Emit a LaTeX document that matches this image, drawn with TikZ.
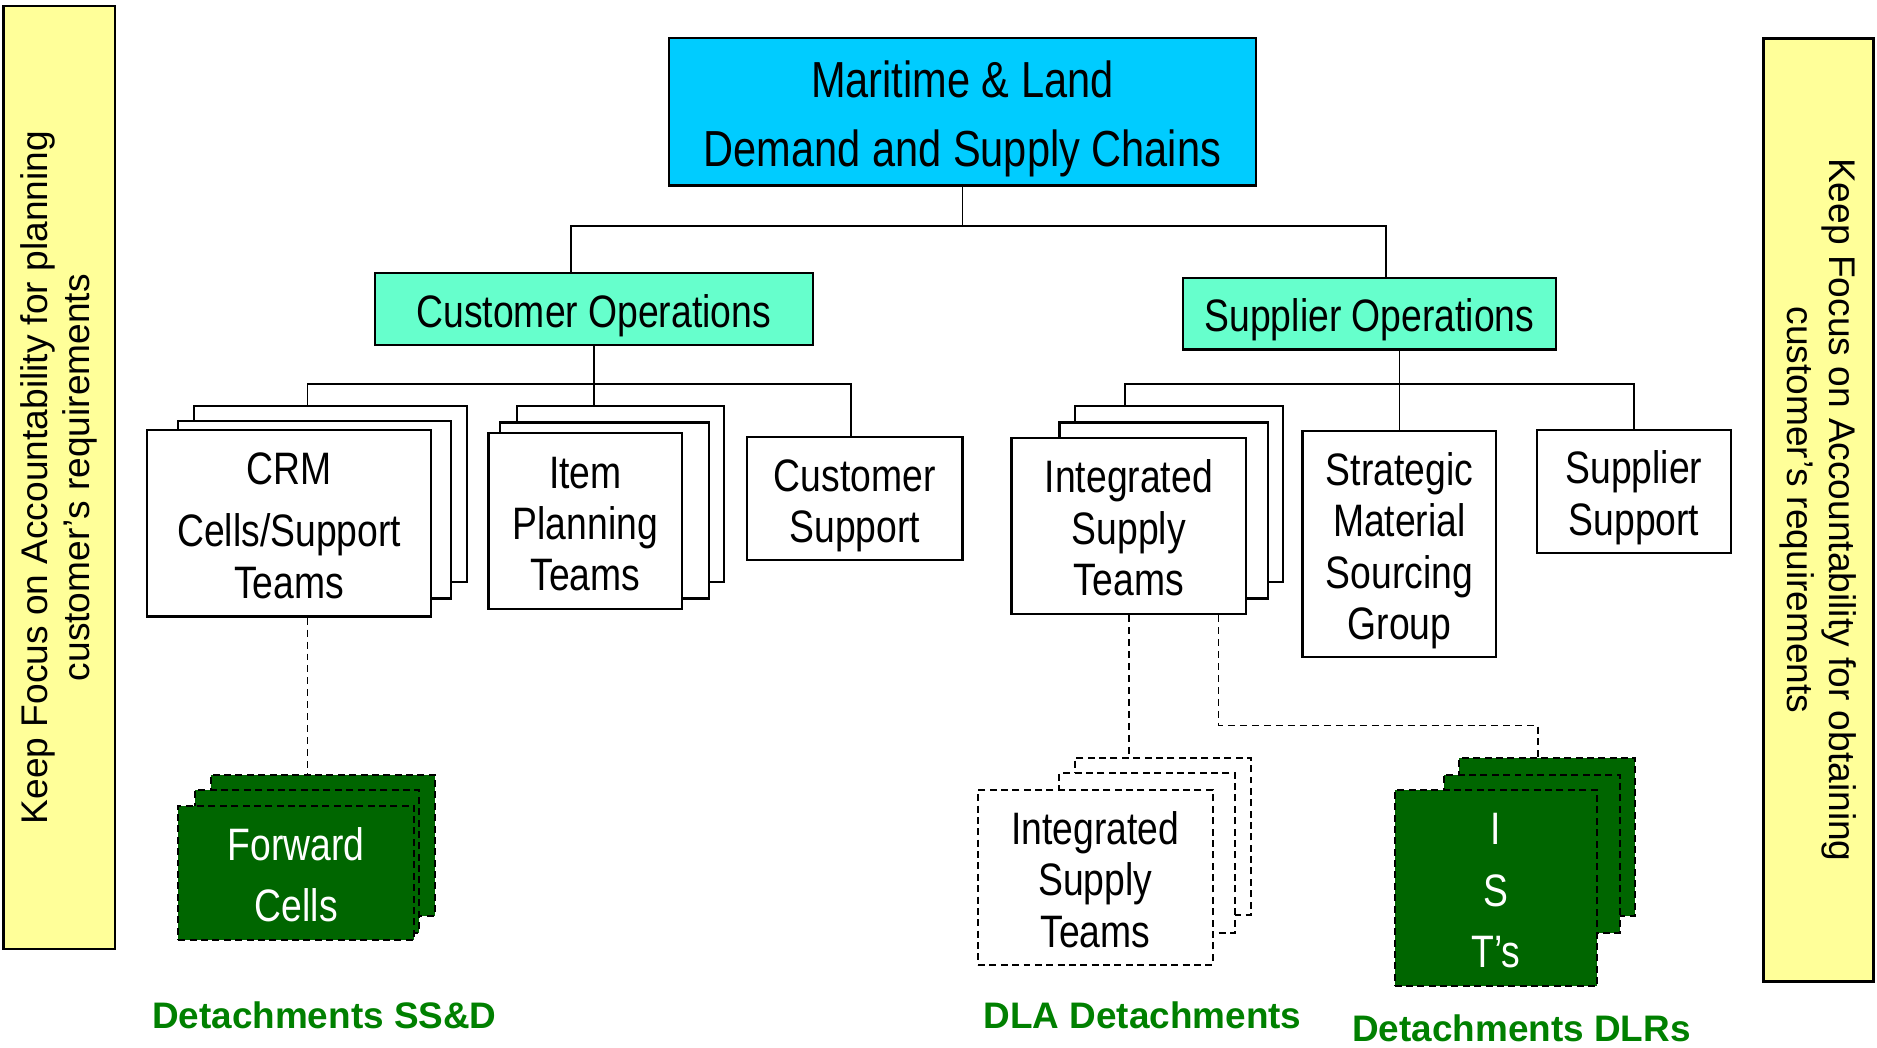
\documentclass[tikz,border=0pt]{standalone}
\usepackage{fontspec}
\setmainfont{Liberation Sans}
\newfontfamily\narrowfont[FakeStretch=0.82]{Liberation Sans}
\definecolor{skyblue}{RGB}{0,204,255}
\definecolor{mint}{RGB}{102,255,204}
\definecolor{paleyellow}{RGB}{255,255,153}
\definecolor{darkgreen}{RGB}{0,102,0}
\definecolor{labelgreen}{RGB}{0,128,0}
\newcommand{\tstrut}{\rule{0pt}{1.01em}}

\tikzset{
  orgbox/.style={draw, fill=white, line width=1.1pt, inner sep=0pt, align=center,
    font=\narrowfont\fontsize{22.8pt}{25.8pt}\selectfont,
    execute at end node={\rule[-0.21em]{0pt}{0.21em}}},
  opsbox/.style={orgbox, fill=mint},
  headbox/.style={orgbox, fill=skyblue, font=\narrowfont\fontsize{25.4pt}{34.8pt}\selectfont},
  sheet/.style={draw, fill=white, line width=1.1pt, inner sep=0pt},
  dashsheet/.style={draw, fill=white, line width=1pt, inner sep=0pt, dash pattern=on 3.5pt off 2.2pt},
  greensheet/.style={dashsheet, fill=darkgreen},
  dashbox/.style={orgbox, dashsheet},
  greenbox/.style={orgbox, greensheet, text=white},
  sidebar/.style={draw, fill=paleyellow, line width=1.2pt, inner sep=0pt, align=center,
    font=\fontsize{18.6pt}{21pt}\selectfont},
  link/.style={draw, line width=0.8pt},
  dlink/.style={link, dash pattern=on 3.5pt off 2.5pt},
  tag/.style={text=labelgreen, font=\bfseries\fontsize{18.5pt}{22pt}\selectfont}
}

\begin{document}
\begin{tikzpicture}[x=0.6pt, y=-0.6pt]
  \useasboundingbox (0,0) rectangle (1568,875);

  % side bars
  \node[sidebar, rotate=90, minimum width=472.8pt, minimum height=55.8pt] (leftbar) at (49.5,399)
       {Keep Focus on Accountability for planning\\customer’s requirements};
  \node[sidebar, rotate=-90, minimum width=472.8pt, minimum height=55.2pt] (rightbar) at (1519,426)
       {Keep Focus on Accountability for obtaining\\customer’s requirements};

  % top of the chart
  \node[headbox, minimum width=294pt, minimum height=73.8pt] (top) at (804,93.5)
       {\tstrut Maritime \& Land\\Demand and Supply Chains};
  \node[opsbox, minimum width=219.6pt, minimum height=36pt] (co) at (496,258) {\tstrut Customer Operations};
  \node[opsbox, minimum width=187.2pt, minimum height=36pt] (so) at (1144,262) {\tstrut Supplier Operations};

  % customer side
  \node[sheet, minimum width=136.8pt, minimum height=88.2pt] (crm3) at (276,412.5) {};
  \node[sheet, minimum width=136.8pt, minimum height=88.8pt] (crm2) at (263,426) {};
  \node[orgbox, minimum width=142.2pt, minimum height=93.6pt] (crm) at (241.5,437)
       {\tstrut CRM\\[5.4pt]Cells/Support\\Teams};
  \node[sheet, minimum width=103.8pt, minimum height=88.2pt] (ip3) at (518.5,412.5) {};
  \node[sheet, minimum width=104.4pt, minimum height=88.2pt] (ip2) at (505,426.5) {};
  \node[orgbox, minimum width=97.2pt, minimum height=88.2pt] (ip) at (489,435.5)
       {\tstrut Item\\Planning\\Teams};
  \node[orgbox, minimum width=108pt, minimum height=61.8pt] (cs) at (714,416.5)
       {\tstrut Customer\\Support};

  % supplier side
  \node[sheet, minimum width=104.4pt, minimum height=88.2pt] (ist3) at (985,412.5) {};
  \node[sheet, minimum width=104.4pt, minimum height=88.2pt] (ist2) at (972,426.5) {};
  \node[orgbox, minimum width=117.6pt, minimum height=88.2pt] (ist) at (943,439.5)
       {\tstrut Integrated\\Supply\\Teams};
  \node[orgbox, minimum width=97.2pt, minimum height=113.4pt] (smsg) at (1169,454.5)
       {\tstrut Strategic\\Material\\Sourcing\\Group};
  \node[orgbox, minimum width=97.2pt, minimum height=61.8pt] (ss) at (1365,410.5)
       {\tstrut Supplier\\Support};

  % detachments
  \node[greensheet, minimum width=112.2pt, minimum height=70.8pt] (fc3) at (269.5,706) {};
  \node[greensheet, minimum width=112.2pt, minimum height=71.4pt] (fc2) at (256.5,719.5) {};
  \node[greenbox, minimum width=118.2pt, minimum height=67.2pt] (fc) at (247.5,729)
       {\tstrut Forward\\[5pt]Cells};
  \node[dashsheet, minimum width=88.2pt, minimum height=78.6pt] (dla3) at (971.5,698.5) {};
  \node[dashsheet, minimum width=88.2pt, minimum height=79.8pt] (dla2) at (958.5,712.5) {};
  \node[dashbox, minimum width=117.6pt, minimum height=87.6pt] (dla) at (915,733)
       {\tstrut Integrated\\Supply\\Teams};
  \node[greensheet, minimum width=88.2pt, minimum height=79.2pt] (ists3) at (1292.5,699) {};
  \node[greensheet, minimum width=88.2pt, minimum height=79.2pt] (ists2) at (1279.5,713) {};
  \node[greenbox, minimum width=101.4pt, minimum height=98.4pt] (ists) at (1249.5,742)
       {\tstrut I\\[5pt]S\\[5pt]T’s};

  \node[tag] (ssd) at (271,848) {Detachments SS\&D};
  \node[tag] (dlad) at (954.5,848) {DLA Detachments};
  \node[tag] (dlrd) at (1271,859) {Detachments DLRs};

  % connectors
  \coordinate (busL) at (477,189);
  \coordinate (busR) at (1158,189);
  \draw[link] (top.south) -- (top.south |- busL);
  \draw[link] (co.north -| busL) -- (busL) -- (busR) -- (so.north -| busR);

  \coordinate (cobusL) at (257,321);
  \coordinate (cobusR) at (711,321);
  \draw[link] (co.south) -- (co.south |- ip3.north);
  \draw[link] (crm3.north -| cobusL) -- (cobusL) -- (cobusR) -- (cs.north -| cobusR);

  \coordinate (sobusL) at (940,321);
  \coordinate (sobusR) at (1365,321);
  \draw[link] (smsg.north) -- (smsg.north |- so.south);
  \draw[link] (ist3.north -| sobusL) -- (sobusL) -- (sobusR) -- (ss.north);

  \coordinate (fcdrop) at (257,600);
  \draw[dlink] (crm.south -| fcdrop) -- (fc3.north -| fcdrop);
  \draw[dlink] (ist.south) -- (ist.south |- dla3.north);
  \coordinate (dlrbendL) at (1018,606);
  \coordinate (dlrbendR) at (1285,606);
  \draw[dlink] (ist.south -| dlrbendL) -- (dlrbendL) -- (dlrbendR) -- (ists3.north -| dlrbendR);
\end{tikzpicture}
\end{document}
